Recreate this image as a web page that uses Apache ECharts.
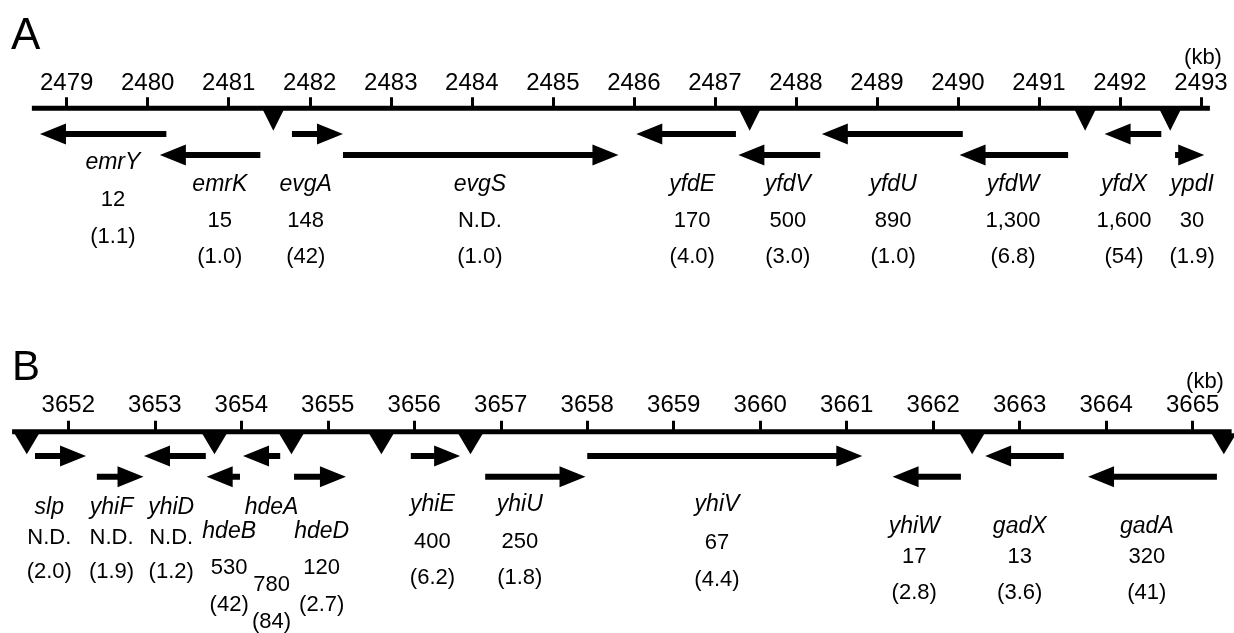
<!DOCTYPE html>
<html><head><meta charset="utf-8">
<script src="https://cdn.jsdelivr.net/npm/echarts@6/dist/echarts.min.js"></script>
<style>html,body{margin:0;padding:0;background:#fff}#c{width:1234px;height:633px}</style>
</head><body><div id="c"></div>
<script>
// ---------- Panel A data (kb) ----------
const aAxisSpan = [2478.57, 2493.11];
const aGenes = ['emrY','emrK','evgA','evgS','yfdE','yfdV','yfdU','yfdW','yfdX','ypdI'];
const aTail  = [2480.23, 2481.39, 2481.78, 2482.41, 2487.26, 2488.30, 2490.06, 2491.36, 2492.51, 2492.68];
const aTip   = [2478.67, 2480.15, 2482.41, 2485.81, 2486.03, 2487.29, 2488.32, 2490.02, 2491.81, 2493.04];
const aTrack = [1,2,1,2,1,2,1,2,1,2];
const aExpr  = ['12','15','148','N.D.','170','500','890','1,300','1,600','30'];
const aFold  = ['(1.1)','(1.0)','(42)','(1.0)','(4.0)','(3.0)','(1.0)','(6.8)','(54)','(1.9)'];
const aLabelKb = [2479.57, 2480.89, 2481.95, 2484.10, 2486.72, 2487.90, 2489.20, 2490.68, 2492.05, 2492.89];
const aTerminators = [2481.55, 2487.43, 2491.57, 2492.62];

// ---------- Panel B data (kb) ----------
const bAxisSpan = [3651.35, 3665.45];
const bGenes = ['slp','yhiF','yhiD','hdeB','hdeA','hdeD','yhiE','yhiU','yhiV','yhiW','gadX','gadA'];
const bTail  = [3651.615, 3652.33, 3653.59, 3653.985, 3654.45, 3654.61, 3655.96, 3656.82, 3658.00, 3662.32, 3663.51, 3665.28];
const bTip   = [3652.205, 3652.87, 3652.875, 3653.60, 3654.02, 3655.21, 3656.53, 3657.98, 3661.18, 3661.53, 3662.60, 3663.79];
const bTrack = [1,2,1,2,1,2,1,2,1,2,1,2];
const bExpr  = ['N.D.','N.D.','N.D.','530','780','120','400','250','67','17','13','320'];
const bFold  = ['(2.0)','(1.9)','(1.2)','(42)','(84)','(2.7)','(6.2)','(1.8)','(4.4)','(2.8)','(3.6)','(41)'];
const bLabelKb = [3651.78, 3652.50, 3653.19, 3653.86, 3654.35, 3654.93, 3656.21, 3657.22, 3659.50, 3661.78, 3663.00, 3664.47];
const bTerminators = [3651.52, 3653.69, 3654.58, 3655.62, 3656.65, 3662.45, 3665.36];

// ---------- layout (px below the map line) ----------
const trackYA = {1: 25.7, 2: 46.7};
const trackYB = {1: 24.3, 2: 45};
const levelsA = {emrY: [54.7, 91.7, 128.7], _: [76.7, 112.7, 148.7]};
const levelsB = {
  slp: [76.3,106.3,140.3], yhiF: [76.3,106.3,140.3], yhiD: [76.3,106.3,140.3],
  hdeA: [76.3,153.3,190], hdeB: [100,136.6,173.3], hdeD: [100,136.6,173.3],
  yhiE: [73.3,110.3,146.3], yhiU: [73.3,110.3,146.3], yhiV: [73.3,111.3,148.3],
  yhiW: [95.3,125.3,161.3], gadX: [95.3,125.3,161.3], gadA: [95.3,125.3,161.3]
};
const FONT = "'Liberation Sans', Arial, Helvetica, sans-serif";

function arrowItem(shaft, headL, headW) {
  return function (params, api) {
    const y = api.value(2);
    const p0 = api.coord([api.value(0), y]);
    const p1 = api.coord([api.value(1), y]);
    const d = p1[0] >= p0[0] ? 1 : -1;
    const hx = p1[0] - d * headL;
    const yy = p0[1];
    return {
      type: 'polygon',
      shape: { points: [
        [p0[0], yy - shaft], [hx, yy - shaft], [hx, yy - headW], [p1[0], yy],
        [hx, yy + headW], [hx, yy + shaft], [p0[0], yy + shaft]
      ]},
      style: { fill: '#000' }
    };
  };
}

function mapLineItem(params, api) {
  const p0 = api.coord([api.value(0), 0]);
  const p1 = api.coord([api.value(1), 0]);
  return { type: 'rect', shape: { x: p0[0], y: p0[1] - 2.5, width: p1[0] - p0[0], height: 5 },
           style: { fill: '#000' } };
}

function labelItem(genes, expr, fold, levels) {
  return function (params, api) {
    const i = params.dataIndex;
    const g = genes[i];
    const lv = levels[g] || levels._;
    const x = api.value(0);
    const pts = lv.map(v => api.coord([x, v]));
    const mk = (p, text, italic) => ({
      type: 'text', x: p[0], y: p[1],
      style: { text: text, fill: '#000', align: 'center', verticalAlign: 'middle',
               font: (italic ? 'italic 23px ' : '22px ') + FONT }
    });
    return { type: 'group', children: [
      mk(pts[0], g, true), mk(pts[1], expr[i], false), mk(pts[2], fold[i], false)
    ]};
  };
}

function panelSeries(idx, span, tail, tip, track, trackY, genes, expr, fold, labelKb, levels, terms, triSize, triY) {
  return [
    { type: 'custom', xAxisIndex: idx, yAxisIndex: idx, clip: false, silent: true,
      renderItem: mapLineItem, data: [[span[0], span[1]]], z: 3 },
    { type: 'scatter', xAxisIndex: idx, yAxisIndex: idx, data: terms.map(t => [t, triY]),
      symbol: 'triangle', symbolRotate: 180, symbolSize: triSize, clip: false, silent: true,
      itemStyle: { color: '#000', opacity: 1 }, z: 4 },
    { type: 'custom', xAxisIndex: idx, yAxisIndex: idx, clip: false, silent: true,
      renderItem: arrowItem(3, 26, 10.5),
      data: tail.map((t, i) => [t, tip[i], trackY[track[i]]]), z: 5 },
    { type: 'custom', xAxisIndex: idx, yAxisIndex: idx, clip: false, silent: true,
      renderItem: labelItem(genes, expr, fold, levels),
      data: labelKb.map((x, i) => [x, i]), z: 5 }
  ];
}

const chart = echarts.init(document.getElementById('c'), null, { renderer: 'canvas' });
const xAxisCommon = {
  type: 'value', position: 'top', interval: 1,
  axisLine: { show: false }, splitLine: { show: false },
  axisTick: { show: true, length: 11, lineStyle: { color: '#000', width: 3 } },
  axisLabel: { color: '#000', fontSize: 24, fontFamily: FONT, margin: 13, formatter: v => String(v),
               showMinLabel: true, showMaxLabel: true }
};
chart.setOption({
  animation: false,
  backgroundColor: '#fff',
  grid: [
    { left: 66.7, right: 33, top: 108.3, height: 200 },
    { left: 68.3, right: 41.3, top: 431.7, height: 200 }
  ],
  xAxis: [
    Object.assign({}, xAxisCommon, { gridIndex: 0, min: 2479, max: 2493 }),
    Object.assign({}, xAxisCommon, { gridIndex: 1, min: 3652, max: 3665,
      axisLabel: Object.assign({}, xAxisCommon.axisLabel, { margin: 14 }) })
  ],
  yAxis: [
    { type: 'value', gridIndex: 0, min: 0, max: 200, inverse: true, show: false },
    { type: 'value', gridIndex: 1, min: 0, max: 200, inverse: true, show: false }
  ],
  graphic: [
    { type: 'text', left: 11, top: 15, style: { text: 'A', font: '44px ' + FONT, fill: '#000' } },
    { type: 'text', left: 12, top: 347, style: { text: 'B', font: '42px ' + FONT, fill: '#000' } },
    { type: 'text', x: 1203, y: 58, style: { text: '(kb)', font: '22px ' + FONT, fill: '#000', align: 'center', verticalAlign: 'middle' } },
    { type: 'text', x: 1205, y: 382, style: { text: '(kb)', font: '22px ' + FONT, fill: '#000', align: 'center', verticalAlign: 'middle' } }
  ],
  series: [].concat(
    panelSeries(0, aAxisSpan, aTail, aTip, aTrack, trackYA, aGenes, aExpr, aFold, aLabelKb, levelsA, aTerminators, [21, 21], 12),
    panelSeries(1, bAxisSpan, bTail, bTip, bTrack, trackYB, bGenes, bExpr, bFold, bLabelKb, levelsB, bTerminators, [25, 21], 12)
  )
});
</script></body></html>
